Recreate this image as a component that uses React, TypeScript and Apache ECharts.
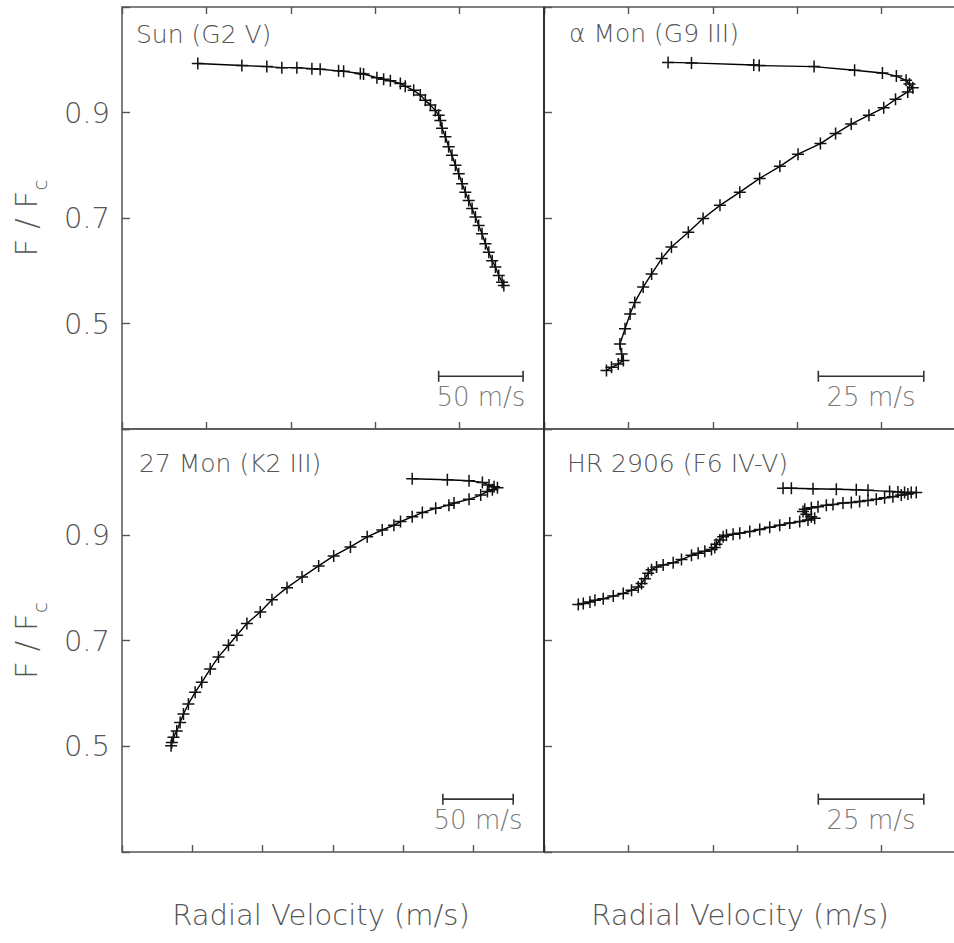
import React, { useEffect, useRef } from 'react';
import * as echarts from 'echarts';

// ---- data (radial velocity in m/s relative to left frame edge, flux F/Fc) ----
const panelNames = ['Sun (G2 V)', 'α Mon (G9 III)', '27 Mon (K2 III)', 'HR 2906 (F6 IV-V)'];

const sunVel = [44.9, 71.0, 85.8, 94.7, 103.6, 112.5, 117.4, 128.3, 131.3, 141.2, 143.1, 151.0, 155.0, 159.0, 164.9, 167.8, 172.8, 176.7, 179.7, 182.7, 185.6, 187.6, 188.6, 189.6, 191.6, 193.5, 195.5, 197.5, 199.5, 201.5, 203.4, 205.4, 207.4, 209.4, 211.3, 213.3, 215.3, 217.3, 219.3, 221.2, 223.2, 225.2, 226.2];
const sunFlux = [0.993, 0.989, 0.987, 0.985, 0.985, 0.983, 0.982, 0.979, 0.978, 0.974, 0.973, 0.966, 0.963, 0.960, 0.955, 0.950, 0.942, 0.933, 0.923, 0.914, 0.904, 0.895, 0.885, 0.870, 0.854, 0.835, 0.819, 0.800, 0.784, 0.765, 0.749, 0.733, 0.718, 0.702, 0.686, 0.670, 0.651, 0.635, 0.619, 0.607, 0.591, 0.578, 0.572];

const alfMonVel = [29.4, 34.95, 49.7, 51.0, 64.0, 73.6, 80.2, 83.5, 85.8, 86.6, 87.4, 86.2, 83.3, 80.5, 77.0, 72.8, 69.1, 65.5, 60.2, 55.9, 51.1, 46.4, 41.7, 37.7, 34.2, 30.2, 27.9, 25.5, 23.5, 21.5, 20.4, 19.2, 18.0, 18.4, 18.8, 17.6, 16.0, 14.8];
const alfMonFlux = [0.995, 0.994, 0.990, 0.989, 0.987, 0.980, 0.975, 0.969, 0.961, 0.954, 0.947, 0.939, 0.925, 0.909, 0.895, 0.878, 0.860, 0.841, 0.821, 0.798, 0.775, 0.749, 0.724, 0.699, 0.673, 0.645, 0.623, 0.594, 0.569, 0.540, 0.518, 0.490, 0.461, 0.442, 0.430, 0.423, 0.417, 0.411];

const mon27Vel = [206.3, 231.3, 246.7, 256.2, 260.9, 264.5, 266.9, 263.3, 259.8, 255.0, 246.7, 236.0, 232.4, 223.0, 213.5, 206.3, 198.0, 193.3, 185.0, 174.3, 162.4, 150.5, 139.8, 128.0, 117.3, 106.6, 98.3, 88.8, 81.7, 75.7, 68.6, 62.7, 56.7, 52.0, 47.2, 43.7, 41.3, 38.9, 36.6, 35.4, 34.9];
const mon27Flux = [1.006, 1.004, 1.002, 0.999, 0.994, 0.991, 0.989, 0.985, 0.982, 0.975, 0.967, 0.960, 0.956, 0.950, 0.942, 0.934, 0.925, 0.918, 0.909, 0.896, 0.877, 0.860, 0.841, 0.820, 0.800, 0.777, 0.754, 0.732, 0.710, 0.691, 0.669, 0.646, 0.621, 0.602, 0.580, 0.561, 0.545, 0.529, 0.517, 0.507, 0.501];

const hr2906Vel = [56.65, 58.62, 63.75, 69.27, 74.0, 76.77, 81.9, 83.87, 85.44, 87.02, 88.21, 86.23, 84.66, 82.68, 80.71, 78.74, 76.77, 74.79, 72.82, 70.85, 68.48, 66.9, 64.93, 63.35, 61.78, 61.38, 62.17, 63.35, 64.14, 62.56, 60.59, 58.23, 55.86, 53.49, 51.12, 48.76, 46.39, 44.81, 43.24, 42.45, 41.66, 40.87, 40.47, 39.69, 38.11, 36.53, 34.95, 32.58, 30.61, 28.24, 26.67, 25.48, 24.69, 23.91, 23.12, 22.33, 20.75, 18.78, 16.41, 14.04, 12.07, 10.89, 9.31, 8.13];
const hr2906Flux = [0.988, 0.988, 0.987, 0.986, 0.985, 0.984, 0.982, 0.981, 0.980, 0.980, 0.980, 0.977, 0.975, 0.972, 0.970, 0.967, 0.965, 0.963, 0.961, 0.960, 0.957, 0.956, 0.953, 0.951, 0.948, 0.944, 0.939, 0.934, 0.931, 0.928, 0.925, 0.922, 0.918, 0.914, 0.910, 0.906, 0.903, 0.901, 0.899, 0.896, 0.890, 0.882, 0.876, 0.872, 0.869, 0.865, 0.861, 0.853, 0.847, 0.843, 0.839, 0.834, 0.827, 0.817, 0.808, 0.801, 0.795, 0.789, 0.784, 0.779, 0.776, 0.773, 0.770, 0.768];

const velocities = [sunVel, alfMonVel, mon27Vel, hr2906Vel];
const fluxes = [sunFlux, alfMonFlux, mon27Flux, hr2906Flux];

const xMax = [250, 100, 300, 100];
const xStep = [50, 20, 50, 20];
const yMin = 0.3;
const yMax = 1.1;
const yStep = 0.2;

const scaleBarStart = [187.6, 65, 228.1, 65];
const scaleBarLength = [50, 25, 50, 25];
const scaleBarFlux = 0.4;
const scaleBarLabels = ['50 m/s', '25 m/s', '50 m/s', '25 m/s'];

const xTitle = 'Radial Velocity (m/s)';

// ---- styling ----
const FONT = '"DejaVu Sans", Arial, sans-serif';
const TXT = '#555';
const FRAME = '#555';
const PLUS = 'path://M0,6H12M6,0V12';

const gridBoxes = [
  { left: 122, top: 7, width: 422, height: 422 },
  { left: 544, top: 7, width: 422, height: 422 },
  { left: 122, top: 429, width: 422, height: 423 },
  { left: 544, top: 429, width: 422, height: 423 },
];
const titlePos = [[136, 34], [569, 33], [139, 463], [567, 463]];
const xTitlePos = [[321, 915], [740, 915]];

export default function App() {
  const ref = useRef<HTMLDivElement>(null);
  useEffect(() => {
    if (!ref.current) return;
    const chart = echarts.init(ref.current, undefined, { renderer: 'svg' });

    const tickStyle = { color: FRAME, width: 1.4 };
    const xAxes: any[] = [];
    for (let i = 0; i < 4; i++) {
      xAxes.push({
        type: 'value', gridIndex: i, min: 0, max: xMax[i], interval: xStep[i], position: 'bottom',
        axisLine: { show: false, onZero: false }, axisLabel: { show: false }, splitLine: { show: false },
        axisTick: { show: true, inside: true, length: 7, lineStyle: tickStyle },
      });
    }
    for (let i = 0; i < 2; i++) {
      xAxes.push({
        type: 'value', gridIndex: i, min: 0, max: xMax[i], interval: xStep[i], position: 'top',
        axisLine: { show: false, onZero: false }, axisLabel: { show: false }, splitLine: { show: false },
        axisTick: { show: true, inside: true, length: 7, lineStyle: tickStyle },
      });
    }
    const yAxes: any[] = [];
    for (let i = 0; i < 4; i++) {
      const left = i % 2 === 0;
      yAxes.push({
        type: 'value', gridIndex: i, min: yMin, max: yMax, interval: yStep,
        axisLine: { show: false, onZero: false }, splitLine: { show: false },
        axisTick: { inside: true, length: 8, lineStyle: tickStyle },
        axisLabel: {
          show: left, margin: 12, fontSize: 29, color: TXT, fontFamily: FONT, fontWeight: 200,
          formatter: (v: number) => (Math.abs(v - yMin) < 1e-6 || Math.abs(v - yMax) < 1e-6 ? '' : v.toFixed(1)),
        },
        name: left ? '{a|F / F}{b|c}' : '',
        nameLocation: 'middle',
        nameGap: 72,
        nameRotate: 90,
        nameTextStyle: {
          color: TXT, fontFamily: FONT, fontWeight: 200,
          rich: {
            a: { fontSize: 31, lineHeight: 40, verticalAlign: 'top', color: TXT, fontFamily: FONT, fontWeight: 200 },
            b: { fontSize: 20, lineHeight: 20, verticalAlign: 'bottom', color: TXT, fontFamily: FONT, fontWeight: 200 },
          },
        },
      });
    }

    const series: any[] = [];
    for (let i = 0; i < 4; i++) {
      series.push({
        type: 'line', xAxisIndex: i, yAxisIndex: i,
        data: velocities[i].map((v, k) => [v, fluxes[i][k]]),
        symbol: PLUS, symbolSize: 12, showAllSymbol: true,
        lineStyle: { color: '#000', width: 1.4 },
        itemStyle: { color: '#000', borderColor: '#111', borderWidth: 1.5 },
        silent: true,
      });
      series.push({
        type: 'line', xAxisIndex: i, yAxisIndex: i,
        data: [[scaleBarStart[i], scaleBarFlux], [scaleBarStart[i] + scaleBarLength[i], scaleBarFlux]],
        symbol: 'rect', symbolSize: [1.6, 11],
        lineStyle: { color: '#333', width: 1.6 },
        itemStyle: { color: '#333' },
        silent: true,
      });
      series.push({
        type: 'scatter', xAxisIndex: i, yAxisIndex: i,
        data: [[scaleBarStart[i] + scaleBarLength[i] / 2, scaleBarFlux]],
        symbolSize: 0,
        label: {
          show: true, position: 'bottom', distance: 8, formatter: scaleBarLabels[i],
          fontSize: 26, color: TXT, fontFamily: FONT, fontWeight: 200,
        },
        silent: true,
      });
    }

    const graphics: any[] = [];
    panelNames.forEach((t, i) => {
      graphics.push({
        type: 'text', x: titlePos[i][0], y: titlePos[i][1], silent: true,
        style: { text: t, fill: TXT, font: `200 25px ${FONT}`, align: 'left', verticalAlign: 'middle' },
      });
    });
    xTitlePos.forEach((p) => {
      graphics.push({
        type: 'text', x: p[0], y: p[1], silent: true,
        style: { text: xTitle, fill: TXT, font: `200 29px ${FONT}`, align: 'center', verticalAlign: 'middle' },
      });
    });
    // darker central divider
    graphics.push({
      type: 'line', silent: true, z: 100,
      shape: { x1: 544, y1: 7, x2: 544, y2: 852 },
      style: { stroke: '#222', lineWidth: 1.6 },
    });

    chart.setOption({
      animation: false,
      backgroundColor: '#fff',
      grid: gridBoxes.map((g) => ({ ...g, show: true, borderColor: FRAME, borderWidth: 1.5, containLabel: false })),
      xAxis: xAxes,
      yAxis: yAxes,
      series,
      graphic: graphics,
    });
    return () => chart.dispose();
  }, []);

  // The chart canvas is wider than the window: the right-hand frames run past the picture's edge.
  return (
    <div style={{ position: 'fixed', left: 0, top: 0, width: 954, height: 943, overflow: 'hidden', background: '#fff' }}>
      <div ref={ref} style={{ width: 990, height: 943 }} />
    </div>
  );
}
